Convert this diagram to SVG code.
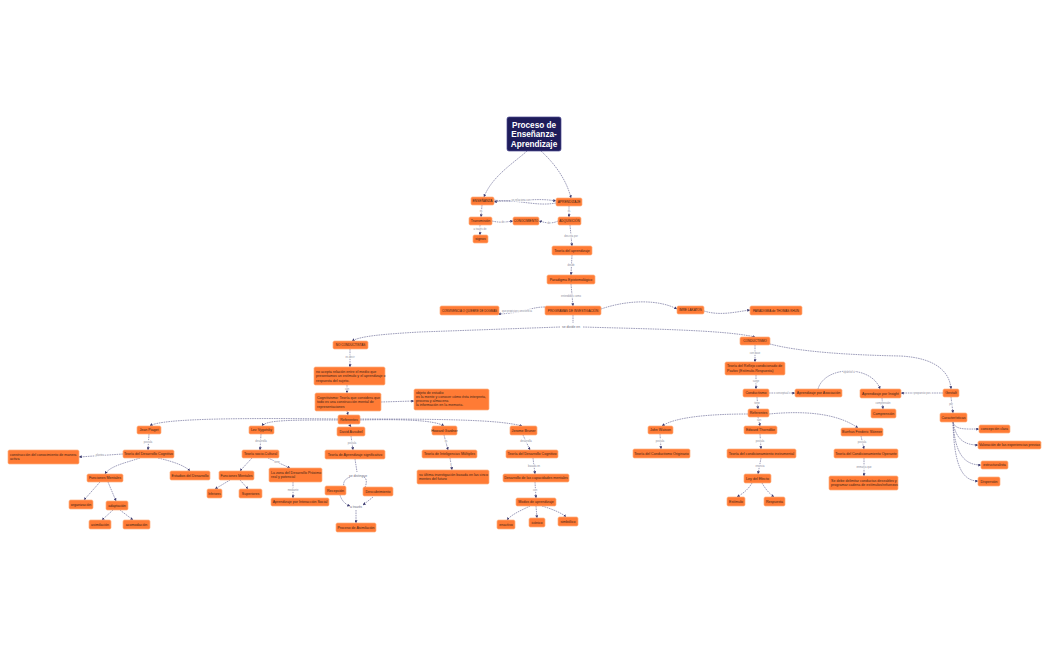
<svg xmlns="http://www.w3.org/2000/svg" width="1050" height="650" viewBox="0 0 1050 650">
<defs>
<marker id="ah" viewBox="0 0 6 6" refX="5.5" refY="3" markerWidth="3" markerHeight="3" markerUnits="userSpaceOnUse" orient="auto"><path d="M0,0 L6,3 L0,6 z" fill="#3b3b70"/></marker>
<style>
.n rect{fill:#FF7B35;stroke:#FFB07E;stroke-width:0.7}
.n text{font-family:"Liberation Sans",Arial,sans-serif;font-size:3.6px;fill:#3a2418}
.c{text-anchor:middle;dominant-baseline:central}
.e path{fill:none;stroke:#5a5a8c;stroke-width:0.6;stroke-dasharray:1.6 0.8;marker-end:url(#ah)}
.e path.nm{marker-end:none}
.lb{font-family:"Liberation Sans",Arial,sans-serif;font-size:2.6px;fill:#8a8a9a;text-anchor:middle;dominant-baseline:central;stroke:#fff;stroke-width:1.2;paint-order:stroke}
.sd{font-family:"Liberation Sans",Arial,sans-serif;font-size:3.4px;fill:#6a6a80;text-anchor:middle;dominant-baseline:central}
</style>
</defs>
<rect width="1050" height="650" fill="#fff"/>
<g id="connectors" class="e">
<path d="M527,151 C515,162 492,176 484,197"/>
<path d="M541,151 C553,162 566,178 571,198"/>
<path d="M494,200 C515,203 535,197 556,201"/>
<path d="M556,203 C535,207 515,198 494,202"/>
<path d="M482,205 L481,217"/>
<path d="M480,225 L480,235"/>
<path d="M492,221 C500,223 506,222 513,221"/>
<path d="M558,221 C552,224 546,223 539,221"/>
<path d="M569,206 L569,217"/>
<path d="M570,225 L572,246"/>
<path d="M572,255 L571,275"/>
<path d="M571,284 L573,306"/>
<path d="M545,307 C530,307 525,313 498,314"/>
<path d="M601,309 C630,299 660,300 677,309"/>
<path d="M704,311 C720,316 735,312 750,310"/>
<path class="nm" d="M573,315 L573,323"/>
<path d="M560,327 L420,332 C385,334 360,336 352,341"/>
<path d="M583,327 C650,329 725,330 755,337"/>
<path d="M770,344 C800,352 850,355 900,356 C940,358 950,375 951,389"/>
<path d="M755,345 L755,362"/>
<path d="M756,375 L756,389"/>
<path d="M757,397 L758,409"/>
<path d="M769,393 L795,393"/>
<path d="M818,389 C825,365 872,365 880,389"/>
<path d="M943,393 L901,393"/>
<path d="M882,398 L883,409"/>
<path d="M951,397 L953,413"/>
<path d="M953,422 C955,430 965,429 979,429"/>
<path d="M953,422 C956,440 965,445 978,445"/>
<path d="M953,422 C955,455 965,465 981,465"/>
<path d="M953,422 C954,465 962,481 978,481"/>
<path d="M748,414 C710,414 675,417 662,426"/>
<path d="M758,417 L760,426"/>
<path d="M769,414 C810,410 840,415 858,428"/>
<path d="M660,434 L661,449"/>
<path d="M760,434 L761,449"/>
<path d="M761,458 L758,474"/>
<path d="M752,483 C748,490 742,494 737,497"/>
<path d="M762,483 C766,490 770,494 774,497"/>
<path d="M861,436 L864,449"/>
<path d="M864,458 L864,476"/>
<path d="M350,349 L350,367"/>
<path d="M347,385 L347,393"/>
<path d="M381,402 L414,401"/>
<path d="M347,411 L348,415"/>
<path d="M338,419 C250,418 160,418 150,426"/>
<path d="M338,420 C290,420 266,420 262,426"/>
<path d="M349,424 L351,427"/>
<path d="M360,420 C400,419 435,420 444,426"/>
<path d="M360,419 C450,419 500,420 522,426"/>
<path d="M149,434 L148,450"/>
<path d="M123,454 L79,457"/>
<path d="M140,458 C125,463 110,466 105,474"/>
<path d="M158,458 C175,462 185,466 190,471"/>
<path d="M100,482 L84,500"/>
<path d="M108,482 L116,501"/>
<path d="M113,510 L102,520"/>
<path d="M120,510 L133,520"/>
<path d="M261,434 L260,450"/>
<path d="M252,458 L240,471"/>
<path d="M268,458 L290,468"/>
<path d="M230,480 L215,489"/>
<path d="M240,480 L248,489"/>
<path d="M293,482 L293,498"/>
<path d="M351,436 L353,450"/>
<path class="nm" d="M355,459 L357,472"/>
<path d="M350,477 C344,479 342,484 345,489"/>
<path d="M364,477 C368,479 366,486 364,490"/>
<path d="M340,495 C342,502 347,505 350,506"/>
<path d="M373,497 L363,505"/>
<path d="M356,510 L356,523"/>
<path d="M444,435 L448,450"/>
<path d="M450,458 L452,470"/>
<path d="M523,435 L530,450"/>
<path d="M533,458 L535,474"/>
<path d="M535,482 L536,498"/>
<path d="M530,506 C522,510 512,514 507,520"/>
<path d="M536,506 L537,518"/>
<path d="M542,506 C552,509 562,513 566,517"/>
</g>
<g id="edge-labels">
<text class="lb" x="521" y="200">se relaciona con</text>
<text class="lb" x="481" y="211">es</text>
<text class="lb" x="480" y="229">a través de</text>
<text class="lb" x="503" y="222">de</text>
<text class="lb" x="549" y="223">de</text>
<text class="lb" x="569" y="211">es</text>
<text class="lb" x="571" y="236">descrita por</text>
<text class="lb" x="571" y="265">desde</text>
<text class="lb" x="571" y="296">entendidos como</text>
<text class="lb" x="517" y="311">que propician convivencia</text>
<text class="sd" x="571" y="327">se divide en</text>
<text class="lb" x="755" y="353">con base</text>
<text class="lb" x="756" y="381">surge</text>
<text class="lb" x="757" y="403">tiene</text>
<text class="lb" x="782" y="393">conceptual</text>
<text class="lb" x="849" y="372">opuesto a</text>
<text class="lb" x="922" y="393">propuesto por</text>
<text class="lb" x="883" y="403">comprensión</text>
<text class="lb" x="951" y="404">por</text>
<text class="lb" x="759" y="420">son</text>
<text class="lb" x="660" y="441">postula</text>
<text class="lb" x="760" y="441">postula</text>
<text class="lb" x="760" y="466">enuncia</text>
<text class="lb" x="862" y="442">postula</text>
<text class="lb" x="864" y="467">enmarca que</text>
<text class="lb" x="350" y="357">es decir</text>
<text class="lb" x="347" y="389">con</text>
<text class="lb" x="148" y="442">postula</text>
<text class="lb" x="100" y="455">plantea</text>
<text class="lb" x="261" y="441">desarrolla</text>
<text class="lb" x="277" y="462">tiene</text>
<text class="lb" x="293" y="490">mediante</text>
<text class="lb" x="352" y="443">postula</text>
<text class="sd" x="358" y="476">se distingue</text>
<text class="sd" x="356" y="507">a través</text>
<text class="lb" x="446" y="441">es</text>
<text class="lb" x="451" y="464">y</text>
<text class="lb" x="526" y="441">desarrolla</text>
<text class="lb" x="534" y="466">basada en</text>
<text class="lb" x="535" y="490">con</text>
</g>
<g id="root"><rect x="507" y="117" width="54" height="34" rx="2" fill="#1e1c5a" stroke="#4a4890" stroke-width="0.7"/>
<text x="534" y="127.5" font-family="Liberation Sans,Arial,sans-serif" font-size="8.2" font-weight="bold" fill="#fff" text-anchor="middle">Proceso de</text>
<text x="534" y="137" font-family="Liberation Sans,Arial,sans-serif" font-size="8.2" font-weight="bold" fill="#fff" text-anchor="middle">Enseñanza-</text>
<text x="534" y="146.5" font-family="Liberation Sans,Arial,sans-serif" font-size="8.2" font-weight="bold" fill="#fff" text-anchor="middle">Aprendizaje</text></g>
<g id="ens" class="n"><rect x="471" y="197" width="23" height="8" rx="1.5"/><text class="c" x="482.5" y="201" style="font-size:3.3px">ENSEÑANZA</text></g>
<g id="apr" class="n"><rect x="556" y="198" width="26" height="8" rx="1.5"/><text class="c" x="569" y="202" style="font-size:3.3px">APRENDIZAJE</text></g>
<g id="trans" class="n"><rect x="469" y="217" width="23" height="8" rx="1.5"/><text class="c" x="480.5" y="221">Transmisión</text></g>
<g id="conoc" class="n"><rect x="513" y="217" width="26" height="8" rx="1.5"/><text class="c" x="526" y="221" style="font-size:3.1px">CONOCIMIENTO</text></g>
<g id="adq" class="n"><rect x="558" y="217" width="23" height="8" rx="1.5"/><text class="c" x="569.5" y="221" style="font-size:3.1px">ADQUISICIÓN</text></g>
<g id="signos" class="n"><rect x="473" y="235" width="15" height="8" rx="1.5"/><text class="c" x="480.5" y="239">signos</text></g>
<g id="teoapr" class="n"><rect x="552" y="246" width="40" height="9" rx="1.5"/><text class="c" x="572" y="250.5">Teoría del aprendizaje</text></g>
<g id="parad" class="n"><rect x="547" y="275" width="48" height="9" rx="1.5"/><text class="c" x="571" y="279.5">Paradigma Epistemológico</text></g>
<g id="prog" class="n"><rect x="545" y="306" width="56" height="9" rx="1.5"/><text class="c" x="573" y="310.5" style="font-size:3.1px">PROGRAMAS DE INVESTIGACIÓN</text></g>
<g id="conv" class="n"><rect x="440" y="306" width="59" height="9" rx="1.5"/><text class="c" x="469.5" y="310.5" style="font-size:2.9px">CONVIVENCIA O QUIEBRE DE DOGMAS</text></g>
<g id="imre" class="n"><rect x="677" y="306" width="27" height="8" rx="1.5"/><text class="c" x="690.5" y="310" style="font-size:3.1px">IMRE LAKATOS</text></g>
<g id="khun" class="n"><rect x="750" y="306" width="52" height="9" rx="1.5"/><text class="c" x="776" y="310.5" style="font-size:3.1px">PARADIGMA de THOMAS KHUN</text></g>
<g id="cond" class="n"><rect x="740" y="337" width="30" height="8" rx="1.5"/><text class="c" x="755" y="341" style="font-size:3.1px">CONDUCTISMO</text></g>
<g id="nocond" class="n"><rect x="333" y="341" width="35" height="8" rx="1.5"/><text class="c" x="350.5" y="345" style="font-size:3.1px">NO CONDUCTISTAS</text></g>
<g id="noacepta" class="n"><rect x="314" y="367" width="71" height="18" rx="1.5"/><text x="316" y="372.5">no acepta relación entre el medio que</text><text x="316" y="377">presentamos un estímulo y el aprendizaje o</text><text x="316" y="381.5">respuesta del sujeto.</text></g>
<g id="cogn" class="n"><rect x="315" y="393" width="66" height="18" rx="1.5"/><text x="317" y="398.5">Cognitivismo: Teoría que considera que</text><text x="317" y="403">todo es una construcción mental de</text><text x="317" y="407.5">representaciones</text></g>
<g id="objeto" class="n"><rect x="414" y="389" width="75" height="21" rx="1.5"/><text x="416" y="394">objeto de estudio</text><text x="416" y="398">es la mente y conocer cómo ésta interpreta,</text><text x="416" y="402">procesa y almacena</text><text x="416" y="406">la información en la memoria.</text></g>
<g id="ref1" class="n"><rect x="338" y="415" width="22" height="9" rx="1.5"/><text class="c" x="349" y="419.5">Referentes</text></g>
<g id="piaget" class="n"><rect x="137" y="426" width="24" height="8" rx="1.5"/><text class="c" x="149" y="430">Jean Piaget</text></g>
<g id="tdc1" class="n"><rect x="123" y="450" width="51" height="8" rx="1.5"/><text class="c" x="148.5" y="454">Teoría del Desarrollo Cognitivo</text></g>
<g id="constr" class="n"><rect x="8" y="450" width="71" height="14" rx="1.5"/><text x="10" y="455.5">construcción del conocimiento de manera</text><text x="10" y="460">activa</text></g>
<g id="fm1" class="n"><rect x="87" y="474" width="36" height="8" rx="1.5"/><text class="c" x="105" y="478">Funciones Mentales</text></g>
<g id="estadios" class="n"><rect x="170" y="471" width="40" height="9" rx="1.5"/><text class="c" x="190" y="475.5">Estadios del Desarrollo</text></g>
<g id="organ" class="n"><rect x="69" y="500" width="24" height="9" rx="1.5"/><text class="c" x="81" y="504.5">organización</text></g>
<g id="adapt" class="n"><rect x="106" y="501" width="22" height="9" rx="1.5"/><text class="c" x="117" y="505.5">adaptación</text></g>
<g id="asim" class="n"><rect x="89" y="520" width="22" height="9" rx="1.5"/><text class="c" x="100" y="524.5">asimilación</text></g>
<g id="acom" class="n"><rect x="123" y="520" width="27" height="9" rx="1.5"/><text class="c" x="136.5" y="524.5">acomodación</text></g>
<g id="vyg" class="n"><rect x="249" y="426" width="25" height="8" rx="1.5"/><text class="c" x="261.5" y="430">Lev Vygotsky</text></g>
<g id="tsc" class="n"><rect x="242" y="450" width="37" height="8" rx="1.5"/><text class="c" x="260.5" y="454">Teoría socio-Cultural</text></g>
<g id="fm2" class="n"><rect x="219" y="471" width="35" height="9" rx="1.5"/><text class="c" x="236.5" y="475.5">Funciones Mentales</text></g>
<g id="zona" class="n"><rect x="269" y="468" width="53" height="14" rx="1.5"/><text x="271" y="473.5">La zona del Desarrollo Próximo</text><text x="271" y="478">real y potencial</text></g>
<g id="inf" class="n"><rect x="207" y="489" width="15" height="9" rx="1.5"/><text class="c" x="214.5" y="493.5" style="font-size:3px">Inferiores</text></g>
<g id="sup" class="n"><rect x="239" y="489" width="23" height="9" rx="1.5"/><text class="c" x="250.5" y="493.5">Superiores</text></g>
<g id="apis" class="n"><rect x="271" y="498" width="58" height="8" rx="1.5"/><text class="c" x="300" y="502">Aprendizaje por Interacción Social</text></g>
<g id="ausubel" class="n"><rect x="337" y="427" width="28" height="9" rx="1.5"/><text class="c" x="351" y="431.5">David Ausubel</text></g>
<g id="tas" class="n"><rect x="325" y="450" width="60" height="9" rx="1.5"/><text class="c" x="355" y="454.5">Teoría de Aprendizaje significativo</text></g>
<g id="recep" class="n"><rect x="325" y="486" width="21" height="9" rx="1.5"/><text class="c" x="335.5" y="490.5">Recepción</text></g>
<g id="desc" class="n"><rect x="363" y="487" width="30" height="9" rx="1.5"/><text class="c" x="378" y="491.5">Descubrimiento</text></g>
<g id="pasim" class="n"><rect x="336" y="523" width="40" height="9" rx="1.5"/><text class="c" x="356" y="527.5">Proceso de Asimilación</text></g>
<g id="gardner" class="n"><rect x="432" y="426" width="25" height="9" rx="1.5"/><text class="c" x="444.5" y="430.5">Howard Gardner</text></g>
<g id="tim" class="n"><rect x="422" y="450" width="55" height="8" rx="1.5"/><text class="c" x="449.5" y="454">Teoría de Inteligencias Múltiples</text></g>
<g id="ultima" class="n"><rect x="417" y="470" width="72" height="14" rx="1.5"/><text x="419" y="475.5">su última investigación basada en las cinco</text><text x="419" y="480">mentes del futuro</text></g>
<g id="bruner" class="n"><rect x="510" y="426" width="27" height="9" rx="1.5"/><text class="c" x="523.5" y="430.5">Jerome Bruner</text></g>
<g id="tdc2" class="n"><rect x="506" y="450" width="52" height="8" rx="1.5"/><text class="c" x="532" y="454">Teoría del Desarrollo Cognitivo</text></g>
<g id="dcm" class="n"><rect x="503" y="474" width="66" height="8" rx="1.5"/><text class="c" x="536" y="478">Desarrollo de las capacidades mentales</text></g>
<g id="modos" class="n"><rect x="516" y="498" width="40" height="8" rx="1.5"/><text class="c" x="536" y="502">Modos de aprendizaje</text></g>
<g id="enact" class="n"><rect x="497" y="520" width="18" height="9" rx="1.5"/><text class="c" x="506" y="524.5">enactivo</text></g>
<g id="icon" class="n"><rect x="529" y="518" width="16" height="9" rx="1.5"/><text class="c" x="537" y="522.5">icónico</text></g>
<g id="simb" class="n"><rect x="558" y="517" width="20" height="9" rx="1.5"/><text class="c" x="568" y="521.5">simbólico</text></g>
<g id="pavlov" class="n"><rect x="725" y="362" width="60" height="13" rx="1.5"/><text x="727" y="367">Teoría del Reflejo condicionado de</text><text x="727" y="371.5">Pavlov     (Estímulo-Respuesta)</text></g>
<g id="cond2" class="n"><rect x="743" y="389" width="26" height="8" rx="1.5"/><text class="c" x="756" y="393">Conductismo</text></g>
<g id="ref2" class="n"><rect x="748" y="409" width="21" height="8" rx="1.5"/><text class="c" x="758.5" y="413">Referentes</text></g>
<g id="asoc" class="n"><rect x="795" y="389" width="47" height="8" rx="1.5"/><text class="c" x="818.5" y="393">Aprendizaje por Asociación</text></g>
<g id="insight" class="n"><rect x="860" y="389" width="41" height="9" rx="1.5"/><text class="c" x="880.5" y="393.5">Aprendizaje por Insight</text></g>
<g id="compr" class="n"><rect x="871" y="409" width="25" height="9" rx="1.5"/><text class="c" x="883.5" y="413.5">Comprensión</text></g>
<g id="gestalt" class="n"><rect x="943" y="389" width="16" height="8" rx="1.5"/><text class="c" x="951" y="393">Gestalt</text></g>
<g id="caract" class="n"><rect x="940" y="413" width="27" height="9" rx="1.5"/><text class="c" x="953.5" y="417.5">Características</text></g>
<g id="concep" class="n"><rect x="979" y="425" width="31" height="8" rx="1.5"/><text class="c" x="994.5" y="429">concepción clara</text></g>
<g id="valor" class="n"><rect x="978" y="441" width="63" height="8" rx="1.5"/><text class="c" x="1009.5" y="445">Valoración de las experiencias previas</text></g>
<g id="estruct" class="n"><rect x="981" y="461" width="27" height="8" rx="1.5"/><text class="c" x="994.5" y="465">estructuralista</text></g>
<g id="disp" class="n"><rect x="978" y="477" width="22" height="9" rx="1.5"/><text class="c" x="989" y="481.5">Dispersión</text></g>
<g id="watson" class="n"><rect x="648" y="426" width="25" height="8" rx="1.5"/><text class="c" x="660.5" y="430">John Watson</text></g>
<g id="tco" class="n"><rect x="633" y="449" width="57" height="9" rx="1.5"/><text class="c" x="661.5" y="453.5">Teoría del Conductismo Originario</text></g>
<g id="thorn" class="n"><rect x="744" y="426" width="33" height="8" rx="1.5"/><text class="c" x="760.5" y="430">Edward Thorndike</text></g>
<g id="tci" class="n"><rect x="727" y="449" width="69" height="9" rx="1.5"/><text class="c" x="761.5" y="453.5">Teoría del condicionamiento instrumental</text></g>
<g id="ley" class="n"><rect x="744" y="474" width="27" height="9" rx="1.5"/><text class="c" x="757.5" y="478.5">Ley del Efecto</text></g>
<g id="estim" class="n"><rect x="727" y="497" width="18" height="9" rx="1.5"/><text class="c" x="736" y="501.5">Estímulo</text></g>
<g id="resp" class="n"><rect x="764" y="497" width="21" height="9" rx="1.5"/><text class="c" x="774.5" y="501.5">Respuesta</text></g>
<g id="skinner" class="n"><rect x="841" y="428" width="42" height="8" rx="1.5"/><text class="c" x="862" y="432">Burrhus Frederic Skinner</text></g>
<g id="tcop" class="n"><rect x="834" y="449" width="64" height="9" rx="1.5"/><text class="c" x="866" y="453.5">Teoría del Condicionamiento Operante</text></g>
<g id="sedebe" class="n"><rect x="829" y="476" width="69" height="14" rx="1.5"/><text x="831" y="481.5">Se debe delimitar conductas deseables y</text><text x="831" y="486">programar cadena de estímulos/refuerzos</text></g>
</svg>
